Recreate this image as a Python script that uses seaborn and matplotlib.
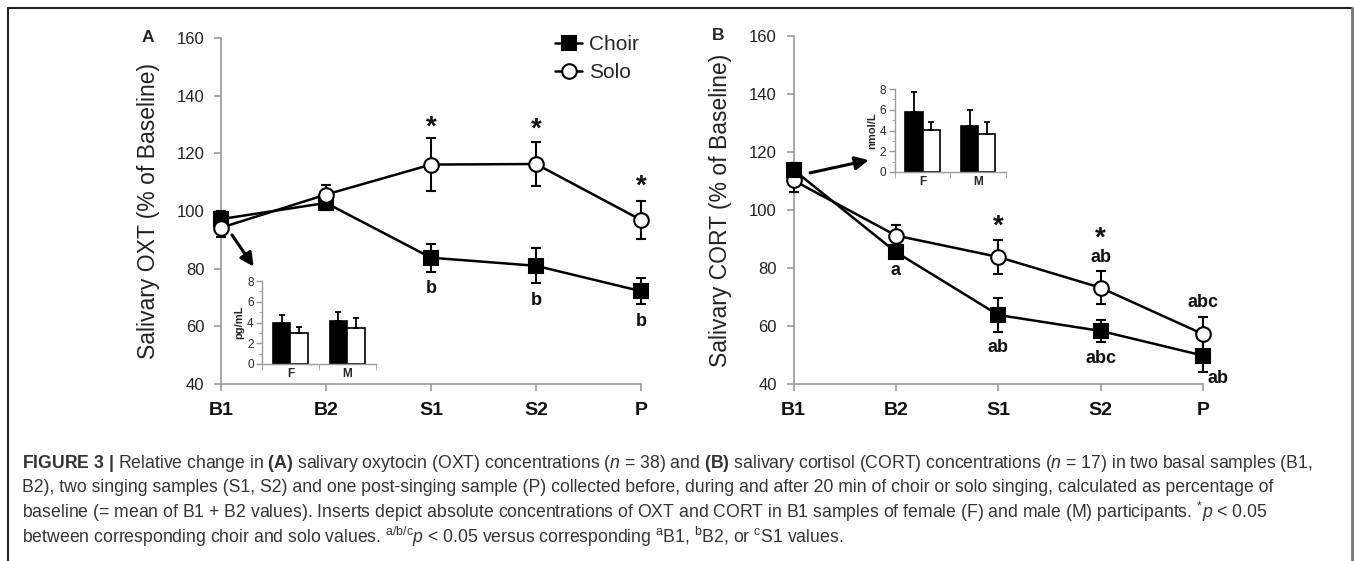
import numpy as np
import pandas as pd
import matplotlib
matplotlib.use("Agg")
import matplotlib.pyplot as plt
import seaborn as sns
from matplotlib.lines import Line2D

# time points and groups
time_labels = ["B1", "B2", "S1", "S2", "P"]
groups = ["Choir", "Solo"]
sexes = ["F", "M"]

# panel A: salivary oxytocin, % of baseline (mean, SEM)
oxt_choir = [97.2, 102.8, 83.8, 81.0, 72.2]
oxt_choir_err = [2.8, 2.5, 4.8, 6.0, 4.5]
oxt_solo = [94.2, 105.7, 116.1, 116.3, 96.9]
oxt_solo_err = [3.2, 3.2, 9.2, 7.6, 6.6]

# panel B: salivary cortisol, % of baseline (mean, SEM)
cort_choir = [113.8, 85.5, 63.8, 58.3, 49.8]
cort_choir_err = [2.5, 2.5, 6.0, 3.7, 5.8]
cort_solo = [110.2, 91.2, 83.8, 73.2, 57.2]
cort_solo_err = [3.9, 3.8, 5.7, 5.6, 5.8]

# inserts: absolute B1 concentrations by sex (choir, solo)
oxt_abs_choir = [4.0, 4.14]
oxt_abs_choir_err = [0.75, 0.86]
oxt_abs_solo = [2.95, 3.5]
oxt_abs_solo_err = [0.65, 0.9]
cort_abs_choir = [5.74, 4.48]
cort_abs_choir_err = [1.96, 1.49]
cort_abs_solo = [4.06, 3.7]
cort_abs_solo_err = [0.74, 1.1]

# significance annotations: (time index, y, text)
oxt_marks = [(2, 129.0, "*"), (3, 128.3, "*"), (4, 108.4, "*"),
             (2, 73.2, "b"), (3, 69.1, "b"), (4, 61.6, "b")]
cort_marks = [(2, 94.3, "*"), (3, 90.1, "*"), (3, 83.5, "ab"), (1, 79.0, "a"),
              (2, 52.5, "ab"), (3, 48.9, "abc"), (4, 68.0, "abc"), (4.15, 42.0, "ab")]

sns.set_style("white")
plt.rcParams["font.family"] = ["Liberation Sans", "DejaVu Sans"]
plt.rcParams["mathtext.fontset"] = "custom"
plt.rcParams["mathtext.rm"] = "Liberation Sans"
plt.rcParams["mathtext.it"] = "Liberation Sans:italic"
plt.rcParams["mathtext.bf"] = "Liberation Sans:bold"

W, H = 1354, 561
fig = plt.figure(figsize=(W / 100, H / 100), dpi=100)
GRAY = "#9a9a9a"
xpos = np.arange(len(time_labels))


def style_main(ax, ylabel):
    ax.set_xlim(0, 4)
    ax.set_ylim(40, 160)
    ax.set_yticks(np.arange(40, 161, 20))
    ax.set_xticks(xpos, labels=time_labels, fontweight="bold")
    for s in ["top", "right"]:
        ax.spines[s].set_visible(False)
    for s in ["left", "bottom"]:
        ax.spines[s].set_color(GRAY)
        ax.spines[s].set_linewidth(1.2)
    ax.tick_params(axis="y", direction="out", length=5, width=1.2, color=GRAY,
                   labelsize=12, pad=7, labelcolor="#222222", left=True)
    ax.tick_params(axis="x", direction="out", length=5, width=1.2, color=GRAY,
                   labelsize=14, pad=8, labelcolor="#111111", bottom=True)
    ax.set_ylabel(ylabel, fontsize=16.5, labelpad=12, color="#222222")


def draw_series(ax, vals, errs, marker, face, label=None):
    ax.errorbar(xpos, vals, yerr=errs, fmt="none", ecolor="black", elinewidth=1.5,
                capsize=3.5, capthick=1.5, zorder=3, clip_on=False)
    sns.lineplot(x=xpos, y=vals, ax=ax, color="black", lw=1.8, marker=marker,
                 markersize=10.5, markerfacecolor=face, markeredgecolor="black",
                 markeredgewidth=1.5, label=label, legend=False, zorder=4, clip_on=False)


def draw_insert(ax, choir, choir_err, solo, solo_err, unit):
    df = pd.DataFrame({"sex": sexes * 2, "group": ["Choir"] * 2 + ["Solo"] * 2,
                       "value": choir + solo})
    sns.barplot(data=df, x="sex", y="value", hue="group", palette=["black", "white"],
                edgecolor="black", linewidth=1.2, width=0.62, errorbar=None,
                legend=False, ax=ax)
    for cont, err in zip(ax.containers, [choir_err, solo_err]):
        xs = [p.get_x() + p.get_width() / 2 for p in cont]
        hs = [p.get_height() for p in cont]
        ax.errorbar(xs, hs, yerr=[np.zeros(len(err)), err], fmt="none", ecolor="black",
                    elinewidth=1.3, capsize=2.5, capthick=1.3)
    ax.set_xlim(-0.5, 1.5)
    ax.set_ylim(0, 8)
    ax.set_yticks([0, 2, 4, 6, 8])
    ax.set_yticks([1, 3, 5, 7], minor=True)
    ax.set_xticks([0, 1], labels=sexes, fontweight="bold")
    ax.set_xticks([-0.5, 0.5, 1.5], minor=True)
    ax.set_xlabel("")
    ax.set_ylabel(unit, fontsize=8, fontweight="bold", labelpad=2)
    ax.patch.set_alpha(0)
    for s in ["top", "right"]:
        ax.spines[s].set_visible(False)
    for s in ["left", "bottom"]:
        ax.spines[s].set_color(GRAY)
        ax.spines[s].set_linewidth(1.0)
    ax.tick_params(axis="both", which="major", labelsize=8.5, color=GRAY, width=1.0)
    ax.tick_params(axis="y", which="major", length=4, pad=2, left=True)
    ax.tick_params(axis="y", which="minor", length=2, color=GRAY, left=True)
    ax.tick_params(axis="x", which="major", length=0, pad=3, bottom=True)
    ax.tick_params(axis="x", which="minor", length=4, color=GRAY, bottom=True)


def draw_marks(ax, marks):
    for xi, yv, txt in marks:
        size = 20 if txt == "*" else 13
        ax.text(xi, yv, txt, ha="center", va="center", fontsize=size,
                fontweight="bold", color="#111111")


# ---- panel A ----
axA = fig.add_axes([221 / W, 1 - 384 / H, 420 / W, 346 / H])
draw_series(axA, oxt_choir, oxt_choir_err, "s", "black", "Choir")
draw_series(axA, oxt_solo, oxt_solo_err, "o", "white", "Solo")
style_main(axA, "Salivary OXT (% of Baseline)")
draw_marks(axA, oxt_marks)
axA.annotate("", xy=(0.311, 80.7), xytext=(0.105, 91.7),
             arrowprops=dict(arrowstyle="-|>", lw=2.2, color="black", mutation_scale=20,
                             shrinkA=0, shrinkB=0))
handles = [Line2D([], [], color="black", lw=1.8, marker="s", markersize=10.5,
                  markerfacecolor="black", markeredgewidth=1.5),
           Line2D([], [], color="black", lw=1.8, marker="o", markersize=10.5,
                  markerfacecolor="white", markeredgewidth=1.5)]
fig.legend(handles, groups, loc="upper left", bbox_to_anchor=(555 / W, 1 - 35 / H),
           frameon=False, fontsize=15, handlelength=1.3, handletextpad=0.35,
           labelspacing=0.45, borderpad=0, borderaxespad=0)

insA = fig.add_axes([262 / W, 1 - 364 / H, 113.5 / W, 83 / H])
draw_insert(insA, oxt_abs_choir, oxt_abs_choir_err, oxt_abs_solo, oxt_abs_solo_err, "pg/mL")

# ---- panel B ----
axB = fig.add_axes([793.6 / W, 1 - 384 / H, 409.4 / W, 348 / H])
draw_series(axB, cort_solo, cort_solo_err, "o", "white")
draw_series(axB, cort_choir, cort_choir_err, "s", "black")
style_main(axB, "Salivary CORT (% of Baseline)")
draw_marks(axB, cort_marks)
axB.annotate("", xy=(0.733, 117.2), xytext=(0.161, 112.8),
             arrowprops=dict(arrowstyle="-|>", lw=2.2, color="black", mutation_scale=20,
                             shrinkA=0, shrinkB=0))

insB = fig.add_axes([894.7 / W, 1 - 172 / H, 111.3 / W, 83 / H])
draw_insert(insB, cort_abs_choir, cort_abs_choir_err, cort_abs_solo, cort_abs_solo_err, "nmol/L")

fig.text(148 / W, 1 - 38 / H, "A", fontsize=12.5, fontweight="bold", ha="center", va="center")
fig.text(718 / W, 1 - 36 / H, "B", fontsize=12.5, fontweight="bold", ha="center", va="center")

# ---- caption ----
caption = [
    r"$\mathbf{FIGURE\ 3\ |}$ Relative change in $\mathbf{(A)}$ salivary oxytocin (OXT) concentrations "
    r"($\mathit{n}$ = 38) and $\mathbf{(B)}$ salivary cortisol (CORT) concentrations ($\mathit{n}$ = 17) "
    r"in two basal samples (B1,",
    "B2), two singing samples (S1, S2) and one post-singing sample (P) collected before, "
    "during and after 20 min of choir or solo singing, calculated as percentage of",
    "baseline (= mean of B1 + B2 values). Inserts depict absolute concentrations of OXT and "
    r"CORT in B1 samples of female (F) and male (M) participants. $^{*}\mathit{p}$ < 0.05",
    r"between corresponding choir and solo values. $^{\mathrm{a/b/c}}\mathit{p}$ < 0.05 versus "
    r"corresponding $^{\mathrm{a}}$B1, $^{\mathrm{b}}$B2, or $^{\mathrm{c}}$S1 values.",
]
for i, line in enumerate(caption):
    fig.text(22 / W, 1 - (463 + i * 24.5) / H, line, fontsize=12.7, color="#333333",
             ha="left", va="center")

# ---- frame ----
fig.add_artist(Line2D([8 / W, 1352 / W], [1 - 8 / H, 1 - 8 / H], color="#222222", lw=1.5))
fig.add_artist(Line2D([8 / W, 8 / W], [1 - 8 / H, 0], color="#222222", lw=1.5))
fig.add_artist(Line2D([1352 / W, 1352 / W], [1 - 8 / H, 0], color="#777777", lw=2))

fig.savefig("out.png", dpi=100)
